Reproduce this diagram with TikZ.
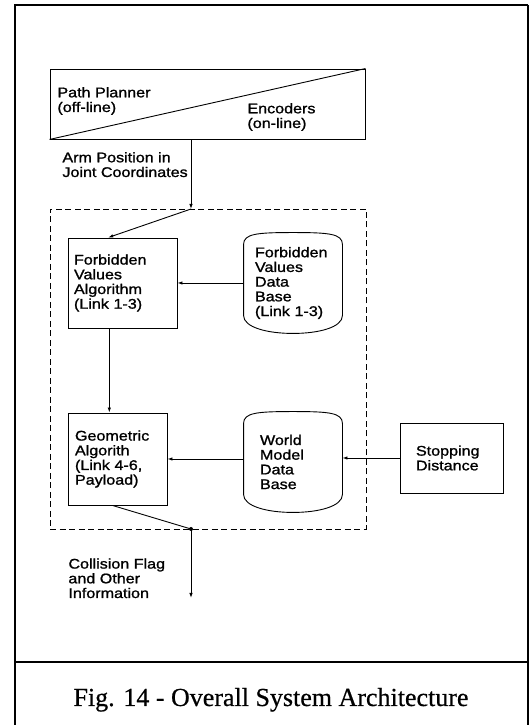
\documentclass[tikz,border=0pt]{standalone}
\usepackage{fontspec}
\usetikzlibrary{calc, arrows.meta}
\newfontfamily\diagfont[FakeStretch=1.15, FakeBold=1.2]{Liberation Sans}
\newfontfamily\capfont[FakeBold=0.6]{Liberation Serif}

% data store outline: rounded top, bulging bottom, drawn round a named node
\newcommand{\storeoutline}[1]{%
	\draw ($(#1.south west)+(0,18)$) -- ($(#1.north west)+(0,-12)$)
	.. controls ($(#1.north west)+(0,-1)$) and ($(#1.north west)+(14,0)$) .. (#1.north)
	.. controls ($(#1.north east)+(-14,0)$) and ($(#1.north east)+(0,-1)$) .. ($(#1.north east)+(0,-12)$)
	-- ($(#1.south east)+(0,18)$)
	.. controls ($(#1.south east)+(0,6)$) and ($(#1.south east)+(-24,0)$) .. (#1.south)
	.. controls ($(#1.south west)+(24,0)$) and ($(#1.south west)+(0,6)$) .. cycle;}

\begin{document}
\begin{tikzpicture}[
			x = 1pt, y = 1pt, line width = 0.9pt,
			every node/.style = {font = \diagfont\fontsize{14}{14.7}\selectfont, inner sep = 0pt},
			procbox/.style = {draw, align = left, inner xsep = 6pt},
			storebox/.style = {align = left, minimum width = 98pt, minimum height = 100pt},
			flowlabel/.style = {align = left, anchor = base west}, % base = last line
			arrowline/.style = {-{Latex[length = 5pt, width = 3.5pt]}},
			corebox/.style = {draw, dash pattern = on 6pt off 3.5pt, minimum width = 316pt, minimum height = 320pt}]
			\useasboundingbox (0,0) rectangle (530,725);
	
			% Frame
			\draw[line width = 2.2pt] (15,-5) -- (15,720) -- (528,720);
			\draw[line width = 1.4pt] (528,720) -- (528,-5);
			\draw[line width = 2pt] (15,63) -- (528,63);
	
			% Input
			\node[procbox, minimum width = 315pt, minimum height = 70pt] (plan) at (207.5,621) {};
			\draw (plan.south west) -- (plan.north east);
			\node[flowlabel] (planner) at (57,613) {Path Planner\\(off-line)};
			\node[flowlabel] (encoders) at (247,597) {Encoders\\(on-line)};
	
			\node[corebox] (core) at (208,356) {};
			\coordinate (entry) at (191,516);
			\draw[arrowline] (plan.south -| entry) -- (entry);
			\node[flowlabel] (armpos) at (62,548) {Arm Position in\\Joint Coordinates};
	
			% Blocks
			\node[procbox, text width = 97pt, minimum height = 90pt] (fva) at (122.5,442) {Forbidden\\Values\\Algorithm\\(Link 1-3)};
			\node[storebox, text width = 76pt] (fvdb) at (293,442) {Forbidden\\Values\\Data\\Base\\(Link 1-3)};
			\storeoutline{fvdb}
			\node[procbox, inner xsep = 7pt, text width = 85pt, minimum height = 92pt] (ga) at (117.5,266) {Geometric\\Algorith\\(Link 4-6,\\Payload)};
			\node[storebox, text width = 66pt] (wmdb) at (293,263) {World\\Model\\Data\\Base};
			\storeoutline{wmdb}
			\node[procbox, inner xsep = 16pt, text width = 71pt, minimum height = 70pt] (sd) at (451.5,267) {Stopping\\Distance};
	
			% Connections
			\draw[arrowline] (entry) -- ($(fva.north west)!0.37!(fva.north east)$);
			\draw[arrowline] (fvdb.west) -- (fvdb.west -| fva.east);
			\coordinate (down) at ($(fva.south west)!0.38!(fva.south east)$);
			\draw[arrowline] (down) -- (down |- ga.north);
			\draw[arrowline] (wmdb.west |- ga.east) -- (ga.east);
			\draw[arrowline] (sd.west) -- (sd.west -| wmdb.east);
	
			\coordinate (exit) at (191,196);
			\coordinate (flagend) at (192,127);
			\draw ($(ga.south west)!0.45!(ga.south east)$) -- (exit);
			\fill (exit) circle (2pt);
			\draw[arrowline] (exit) -- (exit |- flagend);
			\node[flowlabel] (flag) at (68,127) {Collision Flag\\and Other\\Information};
	
			% Labels
			\node[font = \capfont\fontsize{26}{30}\selectfont, anchor = base] (caption) at (271,19) {Fig. 14 - Overall System Architecture};
		\end{tikzpicture}
\end{document}
